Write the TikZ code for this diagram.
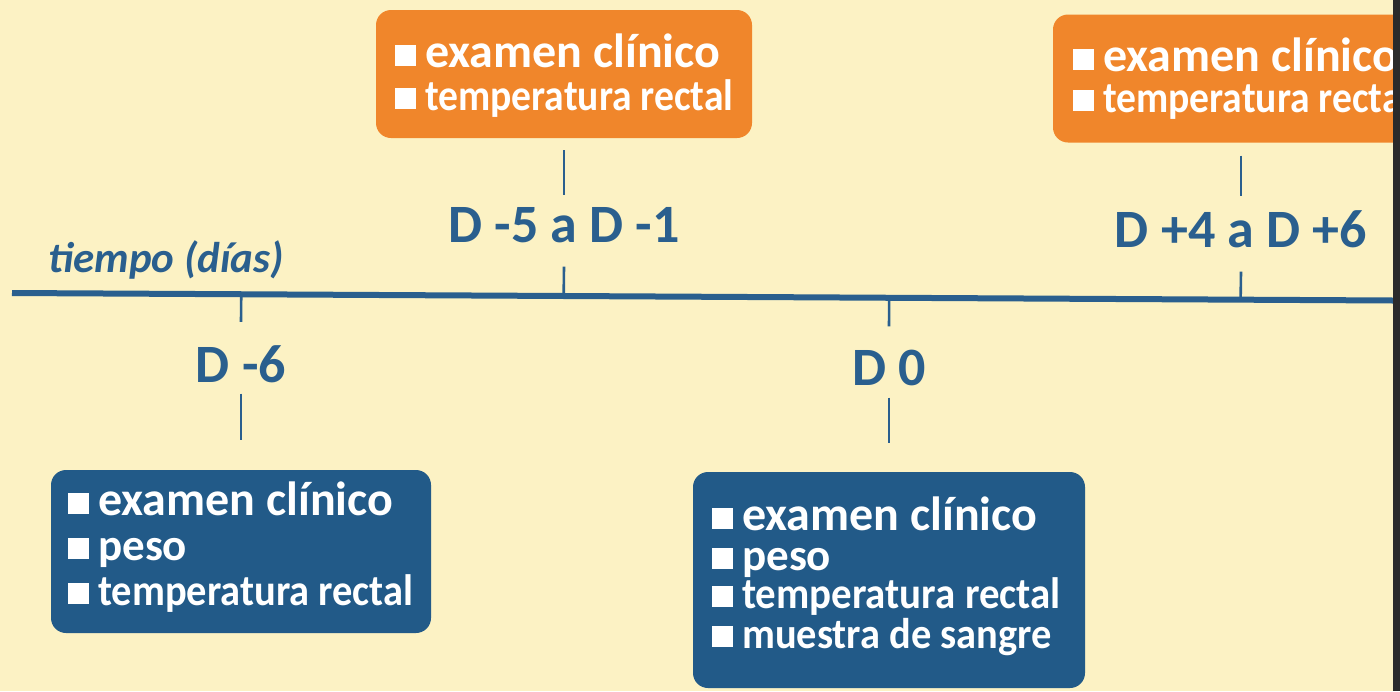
\documentclass[tikz,border=0pt]{standalone}
\usepackage{fontspec}
\setmainfont{Carlito}
\usetikzlibrary{calc}
\definecolor{bg}{HTML}{FCF2C4}
\definecolor{orng}{HTML}{F0862B}
\definecolor{bbox}{HTML}{225A88}
\definecolor{tblue}{HTML}{2A5F8E}
\definecolor{edge}{HTML}{2B2B2B}
\newcommand{\itm}[3][1]{\rule[1pt]{21pt}{21pt}\hspace{9pt}\scalebox{#1}[1]{\fontsize{#2}{#2}\selectfont #3}}
\begin{document}
\begin{tikzpicture}[x=1pt,y=-1pt,
  obox/.style={fill=orng, rounded corners=15pt, inner sep=0pt, minimum width=376pt, minimum height=128pt},
  bbx/.style={fill=bbox, rounded corners=15pt, inner sep=0pt},
  itx/.style={text=white, font=\bfseries, inner sep=0pt, anchor=base west},
  lab/.style={text=tblue, font=\bfseries\fontsize{54}{56}\selectfont, inner sep=0pt, anchor=base},
  tick/.style={draw=tblue, line width=2.6pt},
  axis/.style={draw=tblue, line width=6pt}]
\useasboundingbox (0,0) rectangle (1400,691);
\fill[bg] (0,0) rectangle (1400,691);
% axis
\coordinate (axL) at (12,293);
\coordinate (axR) at (1393,300.5);
\draw[axis] (axL) -- (axR);
\node[text=tblue, font=\bfseries\itshape\fontsize{43}{45}\selectfont, inner sep=0pt, anchor=base west] (tit) at (48,272) {tiempo (días)};
% top boxes
\node[obox] (o1) at (564,74) {};
\node[itx] (o1a) at (395,67) {\itm{48}{examen clínico}};
\node[itx] (o1b) at (395,110) {\itm[0.9]{44}{temperatura rectal}};
\node[obox] (o2) at (1241,78.5) {};
\node[itx] (o2a) at (1073,71) {\itm{48}{examen clínico}};
\node[itx] (o2b) at (1073,112) {\itm[0.9]{44}{temperatura rectal}};
% labels
\node[lab] (l1) at (564,242) {D -5 a D -1};
\node[lab] (l2) at (1241,247) {D +4 a D +6};
\node[lab] (l3) at (241,382) {D -6};
\node[lab] (l4) at (889,385) {D 0};
% bottom boxes
\node[bbx, minimum width=380pt, minimum height=163pt] (b1) at (241,551.5) {};
\node[itx] (b1a) at (68,515) {\itm{48}{examen clínico}};
\node[itx] (b1b) at (68,560) {\itm{45}{peso}};
\node[itx] (b1c) at (68,605) {\itm[0.92]{44}{temperatura rectal}};
\node[bbx, minimum width=392pt, minimum height=216pt] (b2) at (889,580) {};
\node[itx] (b2a) at (712,530) {\itm{48}{examen clínico}};
\node[itx] (b2b) at (712,570) {\itm{45}{peso}};
\node[itx] (b2c) at (712,608) {\itm[0.93]{44}{temperatura rectal}};
\node[itx] (b2d) at (712,648) {\itm[0.94]{43}{muestra de sangre}};
% ticks
\draw[tick] ([yshift=-12pt]o1.south) -- ([yshift=12pt]l1.north);
\draw[tick] ([yshift=-24pt]l1.south) -- ($(axL)!(l1.south)!(axR)$);
\draw[tick] ([yshift=-13pt]o2.south) -- ([yshift=14pt]l2.north);
\draw[tick] ([yshift=-24pt]l2.south) -- ($(axL)!(l2.south)!(axR)$);
\draw[tick] ($(axL)!(l3.north)!(axR)$) -- ([yshift=23pt]l3.north);
\draw[tick] ([yshift=-11pt]l3.south) -- ([yshift=30pt]b1.north);
\draw[tick] ($(axL)!(l4.north)!(axR)$) -- ([yshift=23pt]l4.north);
\draw[tick] ([yshift=-12pt]l4.south) -- ([yshift=29pt]b2.north);
% right edge
\fill[edge] (1393,0) rectangle (1400,691);
\end{tikzpicture}
\end{document}
